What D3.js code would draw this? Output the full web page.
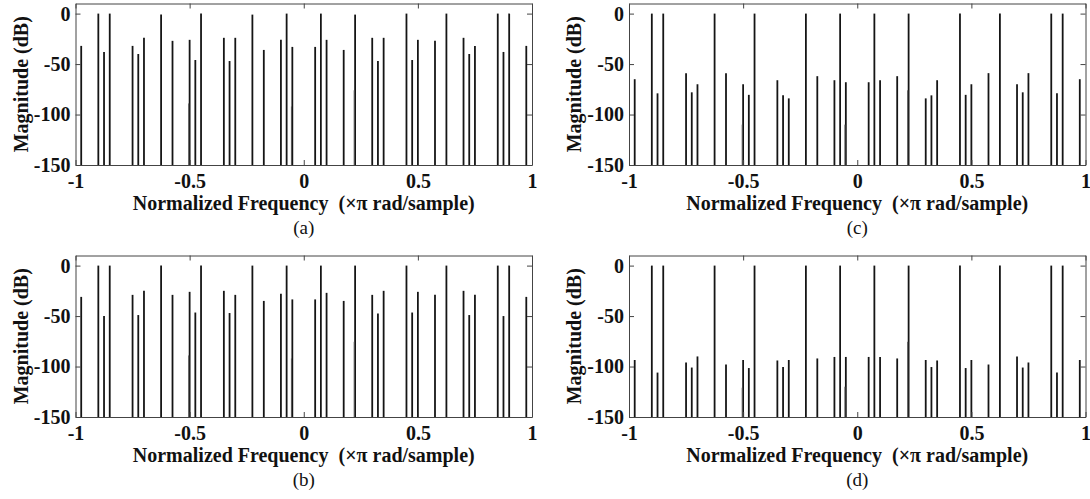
<!DOCTYPE html>
<html>
<head>
<meta charset="utf-8">
<script src="https://cdn.jsdelivr.net/npm/d3@7"></script>
<style>
  body { margin: 0; background: #fff; }
  svg { display: block; }
  text { font-family: "Liberation Serif", "Times New Roman", serif; fill: #111; white-space: pre; }
</style>
</head>
<body>
<div id="chart"></div>
<script>
// tone frequencies (x pi rad/sample)
var freqs = [-0.975, -0.9, -0.875, -0.85, -0.75, -0.725, -0.7, -0.625, -0.575, -0.5,
             -0.475, -0.45, -0.35, -0.325, -0.3, -0.225, -0.175, -0.1, -0.075, -0.05,
             0.05, 0.075, 0.1, 0.175, 0.225, 0.3, 0.325, 0.35, 0.45, 0.475,
             0.5, 0.575, 0.625, 0.7, 0.725, 0.75, 0.85, 0.875, 0.9, 0.975]

var magA = [-32, 0, -38, 0, -32, -40, -24, -1, -27, -26,
            -46, 0, -24, -47, -24, -1, -36, -26, 0, -33,
            -33, 0, -26, -36, -1, -24, -47, -24, 0, -46,
            -26, -27, 0, -24, -40, -32, 0, -38, 0, -32]
var magB = [-31, 0, -50, 0, -29, -49, -25, 0, -29, -26,
            -46.5, 0, -25, -47, -29, 0, -35, -28, 0, -33.5,
            -33.5, 0, -27, -35, 0, -29, -47.5, -25, 0, -46.5,
            -26, -29, 0, -25, -49, -29, 0, -50, 0, -31]
var magC = [-65, 0, -79, 0, -59, -78, -70, 0, -59, -70,
            -80.5, 0, -66, -81, -84, 0, -62, -66, 0, -68,
            -68, 0, -66, -62, 0, -84, -81, -66, 0, -80.5,
            -70, -59, 0, -70, -78, -59, 0, -79, 0, -65]
var magD = [-93.5, 0, -106, 0, -96, -101, -90, 0, -98, -93.5,
            -101.5, 0, -94, -100.5, -93.5, 0, -92, -90.5, 0, -90.5,
            -90.5, 0, -90.5, -92, 0, -93.5, -100.5, -94, 0, -101.5,
            -93.5, -98, 0, -90, -101, -96, 0, -106, 0, -93.5]

// faint components sitting right next to some tones
var spurFreqs = [-0.504, -0.054, 0.221]
var spurA = [-89, -92, -76]
var spurB = [-89, -92, -75.5]
var spurC = [-110, -110, -76]
var spurD = [-121, -120, -75.5]

var xTicks = [-1, -0.5, 0, 0.5, 1]
var yTicks = [0, -50, -100, -150]
var xTitle = "Normalized Frequency  (\u00d7\u03c0 rad/sample)"
var yTitle = "Magnitude (dB)"

var width = 1090
var height = 499
var pw = 456.5
var ph = 161.5
var fs = 20

var panels = [
    {label: "(a)", mags: magA, spur: spurA, left: 75.5, top: 3.5},
    {label: "(b)", mags: magB, spur: spurB, left: 75.5, top: 255.5},
    {label: "(c)", mags: magC, spur: spurC, left: 629, top: 3.5},
    {label: "(d)", mags: magD, spur: spurD, left: 629, top: 255.5}
]

var svg = d3.select("#chart")
    .append("svg")
    .attr("width", width)
    .attr("height", height)

var x = d3.scaleLinear().domain([-1, 1]).range([0, pw])
var y = d3.scaleLinear().domain([-150, 10]).range([ph, 0])
var fmt = function(d) { return String(d); }

function styleAxis(g) {
    g.attr("font-family", null).attr("font-size", null)
    g.select(".domain").attr("stroke", "#444").attr("stroke-width", 1)
    g.selectAll(".tick line").attr("stroke", "#444")
    g.selectAll("text")
        .style("font-size", fs + "px")
        .style("font-weight", "bold")
        .attr("fill", "#111")
}

function drawPanel(p) {
    var g = svg.append("g")
        .attr("transform", "translate(" + p.left + "," + p.top + ")")

    g.append("g")
        .selectAll("line")
        .data(freqs.map(function(f, i) { return {f: f, m: p.mags[i]}; }))
        .enter()
        .append("line")
        .attr("x1", function(d) { return x(d.f); })
        .attr("x2", function(d) { return x(d.f); })
        .attr("y1", y(-150))
        .attr("y2", function(d) { return y(d.m); })
        .attr("stroke", "#151515")
        .attr("stroke-width", 1.8)

    g.append("g")
        .selectAll("line")
        .data(spurFreqs.map(function(f, i) { return {f: f, m: p.spur[i]}; }))
        .enter()
        .append("line")
        .attr("x1", function(d) { return x(d.f); })
        .attr("x2", function(d) { return x(d.f); })
        .attr("y1", y(-150))
        .attr("y2", function(d) { return y(d.m); })
        .attr("stroke", "#555")
        .attr("stroke-width", 1)

    g.append("g")
        .attr("transform", "translate(0," + ph + ")")
        .call(d3.axisBottom(x).tickValues(xTicks).tickFormat(fmt)
            .tickSize(-5).tickSizeOuter(0).tickPadding(9))
        .call(styleAxis)

    g.append("g")
        .call(d3.axisTop(x).tickValues(xTicks).tickFormat("")
            .tickSize(-5).tickSizeOuter(0))
        .call(styleAxis)

    g.append("g")
        .call(d3.axisLeft(y).tickValues(yTicks).tickFormat(fmt)
            .tickSize(-5).tickSizeOuter(0).tickPadding(5))
        .call(styleAxis)

    g.append("g")
        .attr("transform", "translate(" + pw + ",0)")
        .call(d3.axisRight(y).tickValues(yTicks).tickFormat("")
            .tickSize(-5).tickSizeOuter(0))
        .call(styleAxis)

    g.append("text")
        .attr("x", pw / 2)
        .attr("y", ph + 44.5)
        .attr("text-anchor", "middle")
        .style("font-size", fs + "px")
        .style("font-weight", "bold")
        .text(xTitle)

    g.append("text")
        .attr("transform", "translate(-55," + (ph / 2) + ") rotate(-90)")
        .attr("text-anchor", "middle")
        .attr("dy", "0.35em")
        .style("font-size", fs + "px")
        .style("font-weight", "bold")
        .text(yTitle)

    g.append("text")
        .attr("x", pw / 2)
        .attr("y", ph + 69)
        .attr("text-anchor", "middle")
        .style("font-size", "19px")
        .text(p.label)
}

panels.forEach(drawPanel)
</script>
</body>
</html>
